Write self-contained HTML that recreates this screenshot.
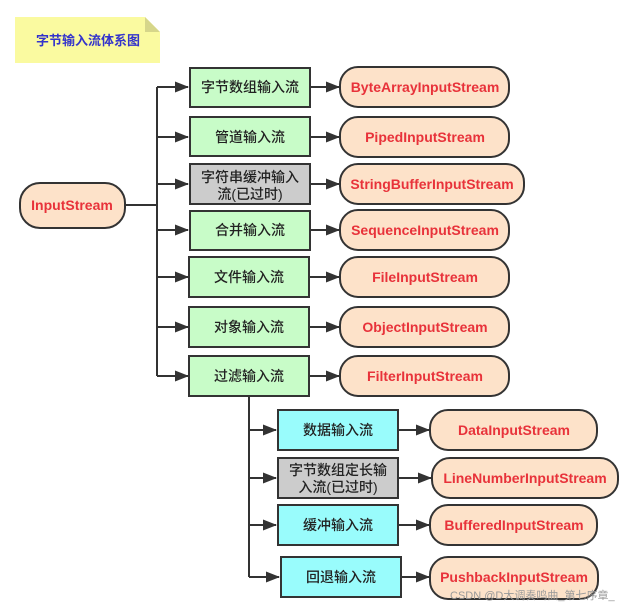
<!DOCTYPE html>
<html><head><meta charset="utf-8"><style>
html,body{margin:0;padding:0;background:#fff;}
svg text{font-family:"Liberation Sans","Noto Sans CJK SC",sans-serif;}
.cn{font-size:14px;fill:#222;text-anchor:middle;font-weight:500;}
.en{font-size:14px;fill:#e8323a;font-weight:bold;text-anchor:middle;}
</style></head><body>
<svg width="624" height="607" viewBox="0 0 624 607" xmlns="http://www.w3.org/2000/svg">
<defs><marker id="a" markerWidth="14" markerHeight="12" refX="13" refY="5.5" orient="auto" markerUnits="userSpaceOnUse"><path d="M0,0 L14,5.5 L0,11 z" fill="#333"/></marker></defs>
<path d="M15,17 H145 L160,32 V63 H15 z" fill="#fafaa0"/>
<path d="M145,17 L160,32 H145 z" fill="#d6d68a"/>
<text x="88" y="45" style="font-size:13px;fill:#3333cc;font-weight:bold;text-anchor:middle">字节输入流体系图</text>
<g stroke="#333" stroke-width="2" fill="none">
<path d="M125,205 H157 M157,87 V376"/>
<path d="M157,87 H188" marker-end="url(#a)"/>
<path d="M157,137 H188" marker-end="url(#a)"/>
<path d="M157,184 H188" marker-end="url(#a)"/>
<path d="M157,230 H188" marker-end="url(#a)"/>
<path d="M157,277 H188" marker-end="url(#a)"/>
<path d="M157,327 H188" marker-end="url(#a)"/>
<path d="M157,376 H188" marker-end="url(#a)"/>
<path d="M310,87 H339" marker-end="url(#a)"/>
<path d="M310,137 H339" marker-end="url(#a)"/>
<path d="M310,184 H339" marker-end="url(#a)"/>
<path d="M310,230 H339" marker-end="url(#a)"/>
<path d="M310,277 H339" marker-end="url(#a)"/>
<path d="M310,327 H339" marker-end="url(#a)"/>
<path d="M310,376 H339" marker-end="url(#a)"/>
<path d="M249,397 V577"/>
<path d="M249,430 H276" marker-end="url(#a)"/>
<path d="M249,478 H276" marker-end="url(#a)"/>
<path d="M249,525 H276" marker-end="url(#a)"/>
<path d="M249,577 H279" marker-end="url(#a)"/>
<path d="M398,430 H429" marker-end="url(#a)"/>
<path d="M398,478 H431" marker-end="url(#a)"/>
<path d="M398,525 H429" marker-end="url(#a)"/>
<path d="M401,577 H429" marker-end="url(#a)"/>
</g>
<g stroke="#333" stroke-width="2">
<rect x="20" y="183" width="105" height="45" rx="20" fill="#fde2c9"/>
<rect x="190" y="68" width="120" height="39" fill="#c8fcc8"/>
<rect x="190" y="117" width="120" height="39" fill="#c8fcc8"/>
<rect x="190" y="164" width="120" height="40" fill="#cccccc"/>
<rect x="190" y="211" width="120" height="39" fill="#c8fcc8"/>
<rect x="189" y="257" width="120" height="40" fill="#c8fcc8"/>
<rect x="189" y="307" width="120" height="40" fill="#c8fcc8"/>
<rect x="189" y="356" width="120" height="40" fill="#c8fcc8"/>
<rect x="340" y="67" width="169" height="40" rx="18" fill="#fde2c9"/>
<rect x="340" y="117" width="169" height="40" rx="18" fill="#fde2c9"/>
<rect x="340" y="164" width="184" height="40" rx="18" fill="#fde2c9"/>
<rect x="340" y="210" width="169" height="40" rx="18" fill="#fde2c9"/>
<rect x="340" y="257" width="169" height="40" rx="18" fill="#fde2c9"/>
<rect x="340" y="307" width="169" height="40" rx="18" fill="#fde2c9"/>
<rect x="340" y="356" width="169" height="40" rx="18" fill="#fde2c9"/>
<rect x="278" y="410" width="120" height="40" fill="#99fcfc"/>
<rect x="278" y="458" width="120" height="40" fill="#cccccc"/>
<rect x="278" y="505" width="120" height="40" fill="#99fcfc"/>
<rect x="281" y="557" width="120" height="40" fill="#99fcfc"/>
<rect x="430" y="410" width="167" height="40" rx="18" fill="#fde2c9"/>
<rect x="432" y="458" width="186" height="40" rx="18" fill="#fde2c9"/>
<rect x="430" y="505" width="167" height="40" rx="18" fill="#fde2c9"/>
<rect x="430" y="557" width="168" height="42" rx="18" fill="#fde2c9"/>
</g>
<text class="en" x="72" y="210">InputStream</text>
<text class="cn" x="250" y="92">字节数组输入流</text>
<text class="cn" x="250" y="142">管道输入流</text>
<text class="cn" x="250" y="182">字符串缓冲输入</text>
<text class="cn" x="250" y="199">流(已过时)</text>
<text class="cn" x="250" y="235">合并输入流</text>
<text class="cn" x="249" y="282">文件输入流</text>
<text class="cn" x="249" y="332">对象输入流</text>
<text class="cn" x="249" y="381">过滤输入流</text>
<text class="en" x="425" y="92">ByteArrayInputStream</text>
<text class="en" x="425" y="142">PipedInputStream</text>
<text class="en" x="432" y="189">StringBufferInputStream</text>
<text class="en" x="425" y="235">SequenceInputStream</text>
<text class="en" x="425" y="282">FileInputStream</text>
<text class="en" x="425" y="332">ObjectInputStream</text>
<text class="en" x="425" y="381">FilterInputStream</text>
<text class="cn" x="338" y="435">数据输入流</text>
<text class="cn" x="338" y="475">字节数组定长输</text>
<text class="cn" x="338" y="492">入流(已过时)</text>
<text class="cn" x="338" y="530">缓冲输入流</text>
<text class="cn" x="341" y="582">回退输入流</text>
<text class="en" x="514" y="435">DataInputStream</text>
<text class="en" x="525" y="483">LineNumberInputStream</text>
<text class="en" x="514" y="530">BufferedInputStream</text>
<text class="en" x="514" y="582">PushbackInputStream</text>
<text x="450" y="599" style="font-size:11px;fill:#999">CSDN @D大调奏鸣曲_第七序章_</text>
</svg>
</body></html>
